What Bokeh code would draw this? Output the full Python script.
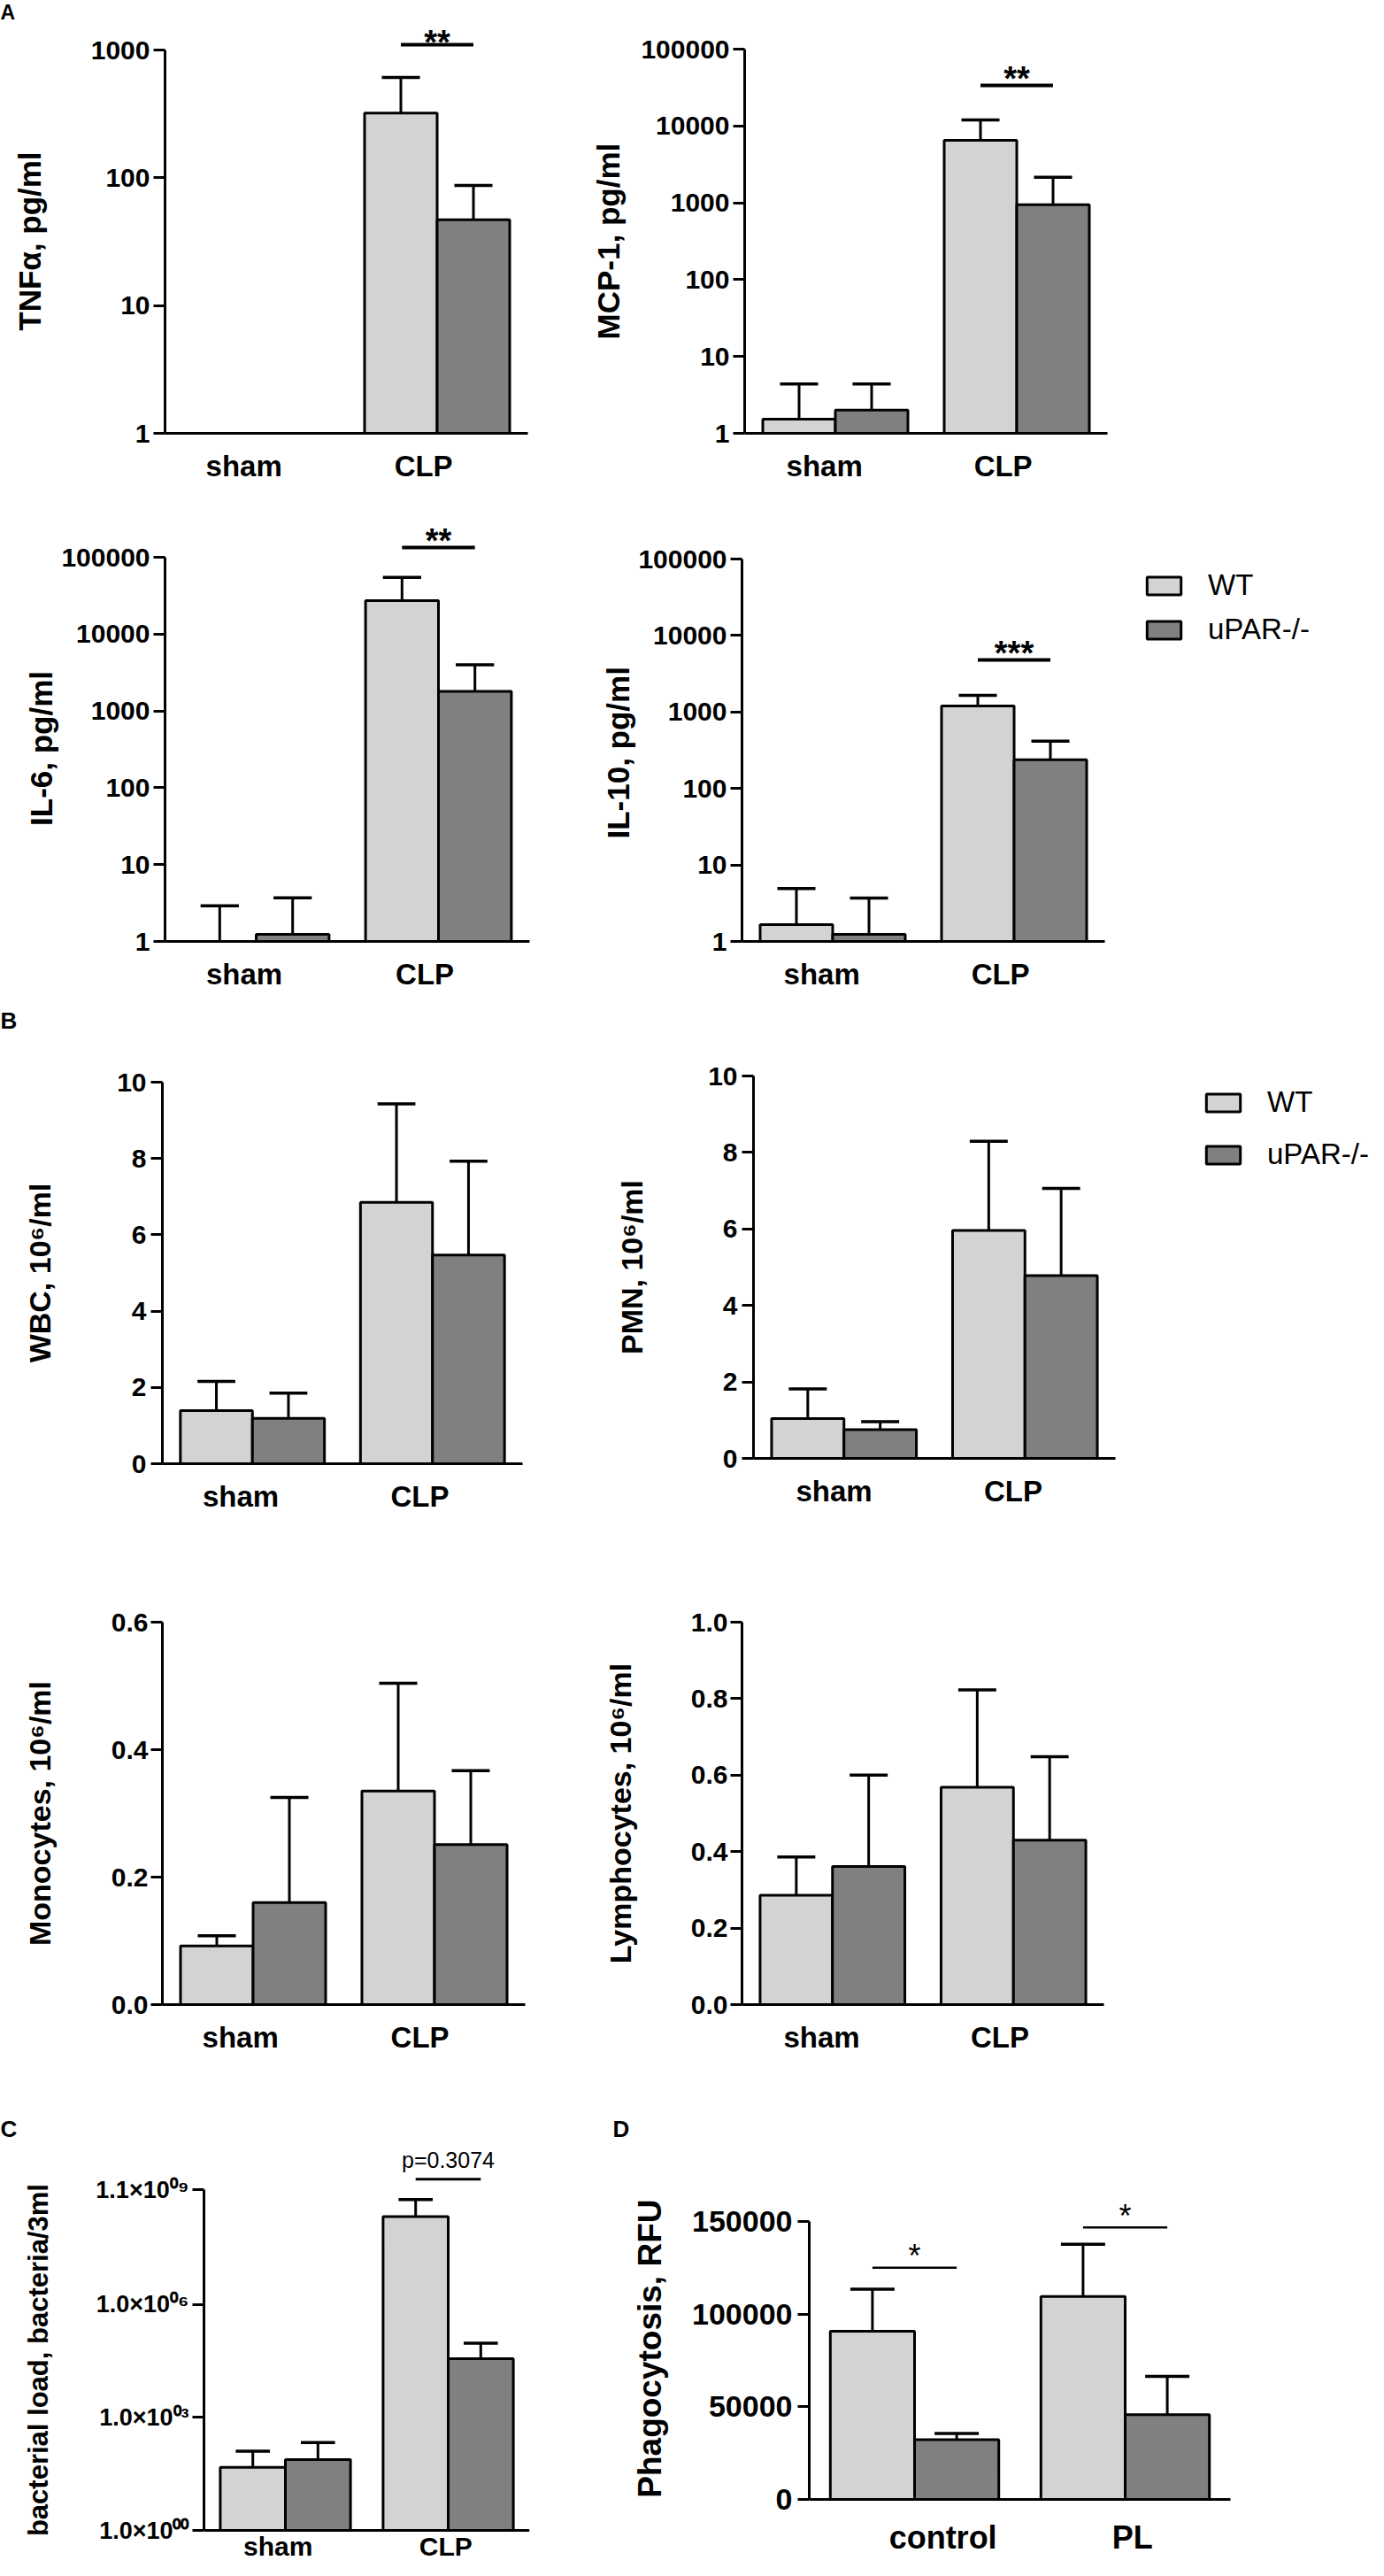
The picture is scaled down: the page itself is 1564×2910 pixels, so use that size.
import math
from bokeh.plotting import figure
from bokeh.layouts import column, row
from bokeh.models import Range1d, FixedTicker, ColumnDataSource, Legend, LegendItem, Spacer, Span
from bokeh.core.properties import value
from bokeh.embed import file_html
from bokeh.resources import INLINE

FONT = "Liberation Sans"
WT_FILL = "#d3d3d3"
KO_FILL = "#808080"

GENOTYPES = ["WT", "uPAR-/-"]
GENOTYPE_FILLS = [WT_FILL, KO_FILL]
GROUPS_SEPSIS = ["sham", "CLP"]
GROUPS_PHAGO = ["control", "PL"]
PANEL_LETTERS = ["A", "B", "C", "D"]

# ---------------- data: mean and SD per group ----------------
# Panel A: cytokines, pg/ml  [sham, CLP]
TNF_WT, TNF_WT_SD = [1.0, 321.0], [0.0, 289.0]
TNF_KO, TNF_KO_SD = [1.0, 47.0], [0.0, 40.0]
MCP_WT, MCP_WT_SD = [1.53, 6500.0], [2.87, 5450.0]
MCP_KO, MCP_KO_SD = [2.0, 946.0], [2.4, 1204.0]
IL6_WT, IL6_WT_SD = [1.0, 27200.0], [1.9, 27600.0]
IL6_KO, IL6_KO_SD = [1.24, 1800.0], [2.46, 2180.0]
IL10_WT, IL10_WT_SD = [1.66, 1200.0], [3.24, 450.0]
IL10_KO, IL10_KO_SD = [1.24, 238.0], [2.46, 177.0]
# Panel B: blood cells, 10^6/ml
WBC_WT, WBC_WT_SD = [1.39, 6.85], [0.77, 2.58]
WBC_KO, WBC_KO_SD = [1.19, 5.47], [0.66, 2.46]
PMN_WT, PMN_WT_SD = [1.04, 5.96], [0.78, 2.33]
PMN_KO, PMN_KO_SD = [0.75, 4.78], [0.21, 2.28]
MONO_WT, MONO_WT_SD = [0.092, 0.335], [0.016, 0.169]
MONO_KO, MONO_KO_SD = [0.160, 0.251], [0.165, 0.116]
LYM_WT, LYM_WT_SD = [0.286, 0.568], [0.100, 0.255]
LYM_KO, LYM_KO_SD = [0.361, 0.430], [0.239, 0.218]
# Panel C: bacterial load, bacteria/3ml
BACT_WT, BACT_WT_SD = [47.0, 2.1e8], [80.0, 3.9e8]
BACT_KO, BACT_KO_SD = [76.0, 3.6e4], [138.0, 5.7e4]
# Panel D: phagocytosis, RFU  [control, PL]
PHAGO_WT, PHAGO_WT_SD = [90800.0, 109500.0], [22600.0, 28200.0]
PHAGO_KO, PHAGO_KO_SD = [32200.0, 45700.0], [3400.0, 20700.0]

# ---------------- tick labels ----------------
LOG3_TICKS, LOG3_LABELS = [1, 10, 100, 1000], ["1", "10", "100", "1000"]
LOG5_TICKS = [1, 10, 100, 1000, 10000, 100000]
LOG5_LABELS = ["1", "10", "100", "1000", "10000", "100000"]
WBC_TICKS, WBC_LABELS = [0, 2, 4, 6, 8, 10], ["0", "2", "4", "6", "8", "10"]
MONO_TICKS, MONO_LABELS = [0.0, 0.2, 0.4, 0.6], ["0.0", "0.2", "0.4", "0.6"]
LYM_TICKS = [0.0, 0.2, 0.4, 0.6, 0.8, 1.0]
LYM_LABELS = ["0.0", "0.2", "0.4", "0.6", "0.8", "1.0"]
BACT_TICKS = [1, 1000, 1000000, 1100000000]
BACT_LABELS = ["1.0\u00d710\u2070\u2070", "1.0\u00d710\u2070\u00b3",
               "1.0\u00d710\u2070\u2076", "1.1\u00d710\u2070\u2079"]
PHAGO_TICKS, PHAGO_LABELS = [0, 50000, 100000, 150000], ["0", "50000", "100000", "150000"]

# significance marks: (group index, y level, text)
TNF_SIG = [(1, 1100.0, "**")]
MCP_SIG = [(1, 33700.0, "**")]
IL6_SIG = [(1, 134000.0, "**")]
IL10_SIG = [(1, 4780.0, "***")]
BACT_SIG = [(1, 2.09e9, "p=0.3074")]
PHAGO_SIG = [(0, 125000.0, "*"), (1, 146750.0, "*")]

GROUP_CENTERS = [1, 3]
NBSP = "\u00a0"


def text_w(s, size):
    w = 0.0
    for ch in s:
        if ch.isdigit():
            w += 0.556
        elif ch == ".":
            w += 0.278
        elif ch == "\u00d7":
            w += 0.584
        else:
            w += 0.37
    return w * size


def no_frame_align(p):
    # keep every plot's own borders (do not line frames up across a row)
    try:
        p.frame_align = False
    except Exception:
        pass


def bar_chart(fig_box, frame_box, axis_top, log, y_lo, y_hi, ticks, tick_labels,
              wt, wt_sd, ko, ko_sd, groups, cat_pos, title, title_pos,
              tick_size=30, tick_standoff=4, cat_size="33px", cat_standoff=18,
              title_size=35, sig=(), sig_size="38px", sig_style="bold",
              sig_width=4, sig_offset=-8, cat_text_offset=None):
    fl, ft, fw, fh = fig_box
    x0, x1, top_px, base_px = frame_box
    # frame bottom: normally the x-axis line; for category labels near the page edge the
    # frame runs to the bottom of the figure and the labels are drawn inside it
    inner_cats = cat_text_offset is not None
    frame_bottom = ft + fh if inner_cats else base_px
    lo, hi = (math.log10(y_lo), math.log10(y_hi)) if log else (y_lo, y_hi)
    per_px = (hi - lo) / (base_px - axis_top)
    end = hi + (axis_top - top_px) * per_px
    start = lo - (frame_bottom - base_px) * per_px
    y_end = 10 ** end if log else end
    y_start = 10 ** start if log else start

    p = figure(width=fw, height=fh, x_range=Range1d(0, 4), y_range=Range1d(y_start, y_end),
               y_axis_type="log" if log else "linear", output_backend="svg",
               toolbar_location=None,
               x_axis_location=None if inner_cats else "below",
               min_border_left=x0 - fl, min_border_right=fl + fw - x1,
               min_border_top=top_px - ft, min_border_bottom=ft + fh - frame_bottom)
    no_frame_align(p)
    p.outline_line_color = None
    p.xgrid.visible = False
    p.ygrid.visible = False
    p.background_fill_color = "white"
    p.border_fill_color = "white"

    # y axis
    ya = p.yaxis[0]
    ya.ticker = FixedTicker(ticks=ticks, minor_ticks=[])
    ya.major_label_overrides = dict(zip(ticks, tick_labels))
    ya.bounds = (y_lo, y_hi)
    ya.axis_line_width = 3
    ya.axis_line_color = "black"
    ya.major_tick_line_width = 3
    ya.major_tick_line_color = "black"
    ya.major_tick_in = 0
    ya.major_tick_out = 13
    ya.minor_tick_line_color = None
    ya.major_label_standoff = tick_standoff
    ya.major_label_text_font = FONT
    ya.major_label_text_font_style = "bold"
    ya.major_label_text_font_size = f"{tick_size}px"
    ya.major_label_text_color = "black"

    # y title as the axis label, centred on the drawn axis (not the taller frame)
    tx, tcy = title_pos
    frame_center = (top_px + frame_bottom) / 2.0
    shift = tcy - frame_center
    n_pad = int(round(abs(2 * shift) / (0.278 * title_size)))
    if shift > 0:
        label_text = title + NBSP * n_pad
    else:
        label_text = NBSP * n_pad + title
    max_w = max(text_w(t, tick_size) for t in tick_labels)
    tick_left = x0 - 13 - tick_standoff - max_w
    standoff = max(0, int(round(tick_left - (tx + 0.212 * title_size))))
    ya.axis_label = label_text
    ya.axis_label_standoff = standoff
    ya.axis_label_text_font = FONT
    ya.axis_label_text_font_style = "bold"
    ya.axis_label_text_font_size = f"{title_size}px"
    ya.axis_label_text_color = "black"

    # x axis
    if not inner_cats:
        xa = p.xaxis[0]
        xa.ticker = FixedTicker(ticks=cat_pos, minor_ticks=[])
        xa.major_label_overrides = dict(zip(cat_pos, groups))
        xa.axis_line_width = 3
        xa.axis_line_color = "black"
        xa.major_tick_line_color = None
        xa.major_tick_in = 0
        xa.major_tick_out = 0
        xa.minor_tick_line_color = None
        xa.major_label_standoff = cat_standoff
        xa.major_label_text_font = FONT
        xa.major_label_text_font_style = "bold"
        xa.major_label_text_font_size = cat_size
        xa.major_label_text_color = "black"
    else:
        p.add_layout(Span(location=y_lo, dimension="width", line_color="black", line_width=3))
        csrc = ColumnDataSource(dict(x=cat_pos, y=[y_lo] * len(cat_pos), t=groups))
        p.text(x="x", y="y", text="t", text_align="center", text_baseline="middle",
               y_offset=cat_text_offset, text_font=value(FONT), text_font_style="bold",
               text_font_size=cat_size, text_color="black", source=csrc)

    # bars
    xs = [c - 0.4 for c in GROUP_CENTERS] + [c + 0.4 for c in GROUP_CENTERS]
    tops = list(wt) + list(ko)
    sds = list(wt_sd) + list(ko_sd)
    fills = [WT_FILL] * len(wt) + [KO_FILL] * len(ko)
    src = ColumnDataSource(dict(x=xs, top=tops, fill=fills))
    p.vbar(x="x", width=0.8, top="top", bottom=y_lo, fill_color="fill",
           line_color="black", line_width=3, source=src)

    ex = [x for x, s in zip(xs, sds) if s > 0]
    et = [t for t, s in zip(tops, sds) if s > 0]
    eh = [t + s for t, s in zip(tops, sds) if s > 0]
    esrc = ColumnDataSource(dict(x=ex, top=et, hi=eh,
                                 cl=[x - 0.21 for x in ex], cr=[x + 0.21 for x in ex]))
    p.segment(x0="x", y0="top", x1="x", y1="hi", line_width=3, line_color="black", source=esrc)
    p.segment(x0="cl", y0="hi", x1="cr", y1="hi", line_width=3.5, line_color="black", source=esrc)

    # significance
    if sig:
        ssrc = ColumnDataSource(dict(
            xa=[GROUP_CENTERS[g] - 0.4 for g, _, _ in sig],
            xb=[GROUP_CENTERS[g] + 0.4 for g, _, _ in sig],
            xc=[GROUP_CENTERS[g] for g, _, _ in sig],
            y=[y for _, y, _ in sig],
            t=[t for _, _, t in sig]))
        p.segment(x0="xa", y0="y", x1="xb", y1="y", line_width=sig_width,
                  line_color="black", source=ssrc)
        p.text(x="xc", y="y", text="t", text_align="center", text_baseline="middle",
               y_offset=sig_offset, text_font=value(FONT), text_font_style=sig_style,
               text_font_size=sig_size, text_color="black", source=ssrc)
    return p


def legend_box(width, height, spacing):
    p = figure(width=width, height=height, x_range=Range1d(0, 1), y_range=Range1d(0, 1),
               output_backend="svg", toolbar_location=None,
               x_axis_location=None, y_axis_location=None,
               min_border_left=0, min_border_right=0, min_border_top=0, min_border_bottom=0)
    no_frame_align(p)
    p.outline_line_color = None
    p.xgrid.visible = False
    p.ygrid.visible = False
    items = []
    for name, fill in zip(GENOTYPES, GENOTYPE_FILLS):
        # a key entry only: its single bar has no position, so only the legend shows it
        ksrc = ColumnDataSource(dict(x=[float("nan")], top=[float("nan")]))
        r = p.vbar(x="x", top="top", width=0.8, fill_color=fill, line_color="black",
                   line_width=3, source=ksrc)
        items.append(LegendItem(label=name, renderers=[r], index=0))
    leg = Legend(items=items, location="top_left", orientation="vertical",
                 glyph_width=48, glyph_height=25, label_height=25, label_standoff=26,
                 spacing=spacing, padding=0, margin=0, border_line_color=None,
                 background_fill_alpha=0, label_text_font=FONT,
                 label_text_font_size="33px", label_text_color="black")
    p.add_layout(leg)
    return p


def letter_row(height, letters, xs, cy, size="26px"):
    p = figure(width=1548, height=height, x_range=Range1d(8, 1556), y_range=Range1d(height, 0),
               output_backend="svg", toolbar_location=None,
               x_axis_location=None, y_axis_location=None,
               min_border_left=0, min_border_right=0, min_border_top=0, min_border_bottom=0)
    no_frame_align(p)
    p.outline_line_color = None
    p.xgrid.visible = False
    p.ygrid.visible = False
    src = ColumnDataSource(dict(x=xs, y=[cy] * len(xs), t=letters))
    p.text(x="x", y="y", text="t", text_align="left", text_baseline="middle",
           text_font=value(FONT), text_font_style="bold", text_font_size=size,
           text_color="black", source=src)
    return p


LEFT_X, LEFT_W = 8, 662
RIGHT_X = 670

row_a_letter = letter_row(26, PANEL_LETTERS[0:1], [8], 13, size="23px")
tnf = bar_chart((LEFT_X, 34, LEFT_W, 544), (194, 604, 34, 497), 64, True, 1, 1000,
                LOG3_TICKS, LOG3_LABELS, TNF_WT, TNF_WT_SD, TNF_KO, TNF_KO_SD,
                GROUPS_SEPSIS, [0.87, 2.85], "TNF\u03b1, pg/ml", (56, 281),
                sig=TNF_SIG, sig_offset=-3)
mcp = bar_chart((RIGHT_X, 34, 886, 544), (849, 1259, 34, 497), 63, True, 1, 100000,
                LOG5_TICKS, LOG5_LABELS, MCP_WT, MCP_WT_SD, MCP_KO, MCP_KO_SD,
                GROUPS_SEPSIS, [0.88, 2.85], "MCP-1, pg/ml", (711, 282), sig=MCP_SIG)
il6 = bar_chart((LEFT_X, 578, LEFT_W, 560), (194, 606, 596, 1071), 637, True, 1, 100000,
                LOG5_TICKS, LOG5_LABELS, IL6_WT, IL6_WT_SD, IL6_KO, IL6_KO_SD,
                GROUPS_SEPSIS, [0.87, 2.85], "IL-6, pg/ml", (74, 855),
                sig=IL6_SIG, sig_offset=-7)
il10 = bar_chart((RIGHT_X, 578, 1299 - RIGHT_X, 560), (846, 1256, 596, 1071), 639, True, 1, 100000,
                 LOG5_TICKS, LOG5_LABELS, IL10_WT, IL10_WT_SD, IL10_KO, IL10_KO_SD,
                 GROUPS_SEPSIS, [0.88, 2.85], "IL-10, pg/ml", (723, 856), sig=IL10_SIG)
leg_a = column(Spacer(width=1556 - 1299, height=650 - 578), legend_box(1556 - 1299, 100, 12))

row_b_letter = letter_row(40, PANEL_LETTERS[1:2], [8], 22.5)
wbc = bar_chart((LEFT_X, 1178, LEFT_W, 580), (191, 598, 1230, 1661), 1230, False, 0, 10,
                WBC_TICKS, WBC_LABELS, WBC_WT, WBC_WT_SD, WBC_KO, WBC_KO_SD,
                GROUPS_SEPSIS, [0.87, 2.86], "WBC, 10\u2076/ml", (67, 1446),
                tick_standoff=5, title_size=34)
pmn = bar_chart((RIGHT_X, 1178, 1366 - RIGHT_X, 580), (859, 1268, 1223, 1655), 1223, False, 0, 10,
                WBC_TICKS, WBC_LABELS, PMN_WT, PMN_WT_SD, PMN_KO, PMN_KO_SD,
                GROUPS_SEPSIS, [0.89, 2.87], "PMN, 10\u2076/ml", (736, 1440),
                tick_standoff=5, title_size=34)
leg_b = column(Spacer(width=1556 - 1366, height=1234 - 1178), legend_box(1556 - 1366, 110, 21))

mono = bar_chart((LEFT_X, 1758, LEFT_W, 590), (191, 601, 1840, 2272), 1840, False, 0.0, 0.6,
                 MONO_TICKS, MONO_LABELS, MONO_WT, MONO_WT_SD, MONO_KO, MONO_KO_SD,
                 GROUPS_SEPSIS, [0.86, 2.84], "Monocytes, 10\u2076/ml", (67, 2057),
                 tick_standoff=3, title_size=34)
lym = bar_chart((RIGHT_X, 1758, 886, 590), (846, 1255, 1840, 2272), 1840, False, 0.0, 1.0,
                LYM_TICKS, LYM_LABELS, LYM_WT, LYM_WT_SD, LYM_KO, LYM_KO_SD,
                GROUPS_SEPSIS, [0.88, 2.85], "Lymphocytes, 10\u2076/ml", (723, 2057),
                tick_standoff=3, title_size=34)

row_cd_letter = letter_row(80, PANEL_LETTERS[2:4], [8, 700], 64.5)
bact = bar_chart((LEFT_X, 2428, LEFT_W, 474), (238, 606, 2428, 2866), 2481, True, 1, 1.1e9,
                 BACT_TICKS, BACT_LABELS, BACT_WT, BACT_WT_SD, BACT_KO, BACT_KO_SD,
                 GROUPS_SEPSIS, [0.91, 2.97], "bacterial load, bacteria/3ml", (57, 2672),
                 tick_size=27, cat_size="30px", title_size=31,
                 sig=BACT_SIG, sig_size="25px", sig_style="normal", sig_width=3, sig_offset=-22,
                 cat_text_offset=18)
phago = bar_chart((RIGHT_X, 2428, 886, 474), (922, 1398, 2480, 2831), 2517, False, 0, 150000,
                  PHAGO_TICKS, PHAGO_LABELS, PHAGO_WT, PHAGO_WT_SD, PHAGO_KO, PHAGO_KO_SD,
                  GROUPS_PHAGO, [1.27, 3.07], "Phagocytosis, RFU", (758, 2663),
                  tick_size=34, tick_standoff=6, cat_size="36px", cat_standoff=22,
                  title_size=37, sig=PHAGO_SIG, sig_size="36px", sig_style="normal",
                  sig_width=2.5, sig_offset=-13)

layout = column(row_a_letter, row(tnf, mcp), row(il6, il10, leg_a), row_b_letter,
                row(wbc, pmn, leg_b), row(mono, lym), row_cd_letter,
                row(column(bact), column(phago)))

open("out.html", "w").write(file_html(layout, INLINE))
